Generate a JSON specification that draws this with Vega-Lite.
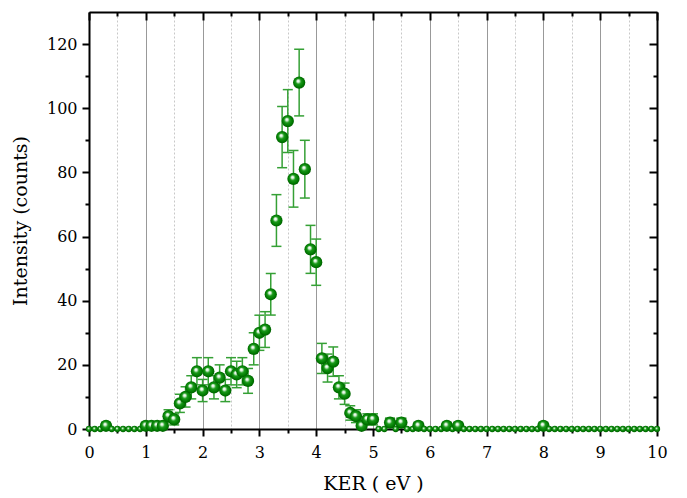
{
  "$schema": "https://vega.github.io/schema/vega-lite/v6.json",
  "width": 568,
  "height": 417,
  "autosize": {"type": "none"},
  "padding": {"left": 89, "top": 12, "right": 30, "bottom": 69},
  "background": "white",
  "config": {
    "view": {"stroke": null},
    "axis": {
      "labelFont": "DejaVu Serif",
      "titleFont": "DejaVu Serif",
      "labelColor": "black",
      "titleColor": "black",
      "domainColor": "black",
      "tickColor": "black",
      "domainWidth": 2,
      "tickWidth": 2,
      "labelFontSize": 16,
      "titleFontSize": 19,
      "titleFontWeight": "normal",
      "labelFlush": false,
      "grid": false
    }
  },
  "data": {
    "values": [
      {"x": 0.0, "y": 0}, {"x": 0.1, "y": 0}, {"x": 0.2, "y": 0},
      {"x": 0.3, "y": 1, "lo": 0, "hi": 2},
      {"x": 0.4, "y": 0}, {"x": 0.5, "y": 0}, {"x": 0.6, "y": 0}, {"x": 0.7, "y": 0}, {"x": 0.8, "y": 0}, {"x": 0.9, "y": 0},
      {"x": 1.0, "y": 1, "lo": 0, "hi": 2},
      {"x": 1.1, "y": 1, "lo": 0, "hi": 2},
      {"x": 1.2, "y": 1, "lo": 0, "hi": 2},
      {"x": 1.3, "y": 1, "lo": 0, "hi": 2},
      {"x": 1.4, "y": 4, "lo": 2, "hi": 6},
      {"x": 1.5, "y": 3, "lo": 1.27, "hi": 4.73},
      {"x": 1.6, "y": 8, "lo": 5.17, "hi": 10.83},
      {"x": 1.7, "y": 10, "lo": 6.84, "hi": 13.16},
      {"x": 1.8, "y": 13, "lo": 9.39, "hi": 16.61},
      {"x": 1.9, "y": 18, "lo": 13.76, "hi": 22.24},
      {"x": 2.0, "y": 12, "lo": 8.54, "hi": 15.46},
      {"x": 2.1, "y": 18, "lo": 13.76, "hi": 22.24},
      {"x": 2.2, "y": 13, "lo": 9.39, "hi": 16.61},
      {"x": 2.3, "y": 16, "lo": 12, "hi": 20},
      {"x": 2.4, "y": 12, "lo": 8.54, "hi": 15.46},
      {"x": 2.5, "y": 18, "lo": 13.76, "hi": 22.24},
      {"x": 2.6, "y": 17, "lo": 12.88, "hi": 21.12},
      {"x": 2.7, "y": 18, "lo": 13.76, "hi": 22.24},
      {"x": 2.8, "y": 15, "lo": 11.13, "hi": 18.87},
      {"x": 2.9, "y": 25, "lo": 20, "hi": 30},
      {"x": 3.0, "y": 30, "lo": 24.52, "hi": 35.48},
      {"x": 3.1, "y": 31, "lo": 25.43, "hi": 36.57},
      {"x": 3.2, "y": 42, "lo": 35.52, "hi": 48.48},
      {"x": 3.3, "y": 65, "lo": 56.94, "hi": 73.06},
      {"x": 3.4, "y": 91, "lo": 81.46, "hi": 100.54},
      {"x": 3.5, "y": 96, "lo": 86.2, "hi": 105.8},
      {"x": 3.6, "y": 78, "lo": 69.17, "hi": 86.83},
      {"x": 3.7, "y": 108, "lo": 97.61, "hi": 118.39},
      {"x": 3.8, "y": 81, "lo": 72, "hi": 90},
      {"x": 3.9, "y": 56, "lo": 48.52, "hi": 63.48},
      {"x": 4.0, "y": 52, "lo": 44.79, "hi": 59.21},
      {"x": 4.1, "y": 22, "lo": 17.31, "hi": 26.69},
      {"x": 4.2, "y": 19, "lo": 14.64, "hi": 23.36},
      {"x": 4.3, "y": 21, "lo": 16.42, "hi": 25.58},
      {"x": 4.4, "y": 13, "lo": 9.39, "hi": 16.61},
      {"x": 4.5, "y": 11, "lo": 7.68, "hi": 14.32},
      {"x": 4.6, "y": 5, "lo": 2.76, "hi": 7.24},
      {"x": 4.7, "y": 4, "lo": 2, "hi": 6},
      {"x": 4.8, "y": 1, "lo": 0, "hi": 2},
      {"x": 4.9, "y": 3, "lo": 1.27, "hi": 4.73},
      {"x": 5.0, "y": 3, "lo": 1.27, "hi": 4.73},
      {"x": 5.1, "y": 0}, {"x": 5.2, "y": 0},
      {"x": 5.3, "y": 2, "lo": 0.59, "hi": 3.41},
      {"x": 5.4, "y": 0},
      {"x": 5.5, "y": 2, "lo": 0.59, "hi": 3.41},
      {"x": 5.6, "y": 0}, {"x": 5.7, "y": 0},
      {"x": 5.8, "y": 1, "lo": 0, "hi": 2},
      {"x": 5.9, "y": 0}, {"x": 6.0, "y": 0}, {"x": 6.1, "y": 0}, {"x": 6.2, "y": 0},
      {"x": 6.3, "y": 1, "lo": 0, "hi": 2},
      {"x": 6.4, "y": 0},
      {"x": 6.5, "y": 1, "lo": 0, "hi": 2},
      {"x": 6.6, "y": 0}, {"x": 6.7, "y": 0}, {"x": 6.8, "y": 0}, {"x": 6.9, "y": 0},
      {"x": 7.0, "y": 0}, {"x": 7.1, "y": 0}, {"x": 7.2, "y": 0}, {"x": 7.3, "y": 0}, {"x": 7.4, "y": 0},
      {"x": 7.5, "y": 0}, {"x": 7.6, "y": 0}, {"x": 7.7, "y": 0}, {"x": 7.8, "y": 0}, {"x": 7.9, "y": 0},
      {"x": 8.0, "y": 1, "lo": 0, "hi": 2},
      {"x": 8.1, "y": 0}, {"x": 8.2, "y": 0}, {"x": 8.3, "y": 0}, {"x": 8.4, "y": 0},
      {"x": 8.5, "y": 0}, {"x": 8.6, "y": 0}, {"x": 8.7, "y": 0}, {"x": 8.8, "y": 0}, {"x": 8.9, "y": 0},
      {"x": 9.0, "y": 0}, {"x": 9.1, "y": 0}, {"x": 9.2, "y": 0}, {"x": 9.3, "y": 0}, {"x": 9.4, "y": 0},
      {"x": 9.5, "y": 0}, {"x": 9.6, "y": 0}, {"x": 9.7, "y": 0}, {"x": 9.8, "y": 0}, {"x": 9.9, "y": 0},
      {"x": 10.0, "y": 0}
    ]
  },
  "resolve": {
    "scale": {"x": "independent", "y": "independent"},
    "axis": {"x": "independent", "y": "independent"}
  },
  "layer": [
    {
      "transform": [{"filter": "datum.y > 0"}],
      "mark": {"type": "rule", "color": "#35a035", "strokeWidth": 1.5},
      "encoding": {
        "x": {
          "field": "x", "type": "quantitative",
          "scale": {"domain": [0, 10], "nice": false, "zero": false},
          "axis": {
            "orient": "bottom", "values": [0, 1, 2, 3, 4, 5, 6, 7, 8, 9, 10],
            "format": "d", "tickSize": 7, "labelPadding": 8,
            "grid": true, "gridColor": "#999999", "gridWidth": 1,
            "title": "KER ( eV )", "titlePadding": 14
          }
        },
        "y": {
          "field": "lo", "type": "quantitative",
          "scale": {"domain": [0, 130], "nice": false},
          "axis": {
            "orient": "left", "values": [0, 20, 40, 60, 80, 100, 120],
            "tickSize": 7, "labelPadding": 5,
            "title": "Intensity (counts)", "titlePadding": 16
          }
        },
        "y2": {"field": "hi"}
      }
    },
    {
      "transform": [{"filter": "datum.y > 0"}],
      "mark": {"type": "tick", "orient": "horizontal", "color": "#35a035", "size": 10, "thickness": 1.5, "opacity": 1},
      "encoding": {
        "x": {
          "field": "x", "type": "quantitative",
          "scale": {"domain": [0, 10], "nice": false, "zero": false},
          "axis": {
            "orient": "bottom", "values": [0.5, 1.5, 2.5, 3.5, 4.5, 5.5, 6.5, 7.5, 8.5, 9.5],
            "labels": false, "tickSize": 4, "domain": false,
            "grid": true, "gridColor": "#c8c8c8", "gridWidth": 1, "gridDash": [2, 2],
            "title": null
          }
        },
        "y": {
          "field": "lo", "type": "quantitative",
          "scale": {"domain": [0, 130], "nice": false},
          "axis": {
            "orient": "left", "values": [10, 30, 50, 70, 90, 110],
            "labels": false, "tickSize": 4, "domain": false, "title": null
          }
        }
      }
    },
    {
      "transform": [{"filter": "datum.y > 0"}],
      "mark": {"type": "tick", "orient": "horizontal", "color": "#35a035", "size": 10, "thickness": 1.5, "opacity": 1},
      "encoding": {
        "x": {
          "field": "x", "type": "quantitative",
          "scale": {"domain": [0, 10], "nice": false, "zero": false},
          "axis": {
            "orient": "top", "values": [0, 1, 2, 3, 4, 5, 6, 7, 8, 9, 10],
            "labels": false, "tickSize": -8, "title": null
          }
        },
        "y": {
          "field": "hi", "type": "quantitative",
          "scale": {"domain": [0, 130], "nice": false},
          "axis": {
            "orient": "right", "values": [0, 20, 40, 60, 80, 100, 120],
            "labels": false, "tickSize": -8, "title": null
          }
        }
      }
    },
    {
      "mark": {
        "type": "point", "shape": "circle", "filled": true, "opacity": 1, "strokeWidth": 0,
        "fill": {
          "gradient": "radial",
          "x1": 0.4, "y1": 0.35, "r1": 0.0,
          "x2": 0.5, "y2": 0.5, "r2": 0.55,
          "stops": [
            {"offset": 0, "color": "#ffffff"},
            {"offset": 0.18, "color": "#e0f4e0"},
            {"offset": 0.4, "color": "#1a9a1a"},
            {"offset": 0.75, "color": "#007a00"},
            {"offset": 1, "color": "#005200"}
          ]
        }
      },
      "encoding": {
        "x": {
          "field": "x", "type": "quantitative",
          "scale": {"domain": [0, 10], "nice": false, "zero": false},
          "axis": {
            "orient": "top", "values": [0.5, 1.5, 2.5, 3.5, 4.5, 5.5, 6.5, 7.5, 8.5, 9.5],
            "labels": false, "tickSize": -4, "domain": false, "title": null
          }
        },
        "y": {
          "field": "y", "type": "quantitative",
          "scale": {"domain": [0, 130], "nice": false},
          "axis": {
            "orient": "right", "values": [10, 30, 50, 70, 90, 110],
            "labels": false, "tickSize": -4, "domain": false, "title": null
          }
        },
        "size": {"condition": {"test": "datum.y == 0", "value": 40}, "value": 150}
      }
    }
  ]
}
